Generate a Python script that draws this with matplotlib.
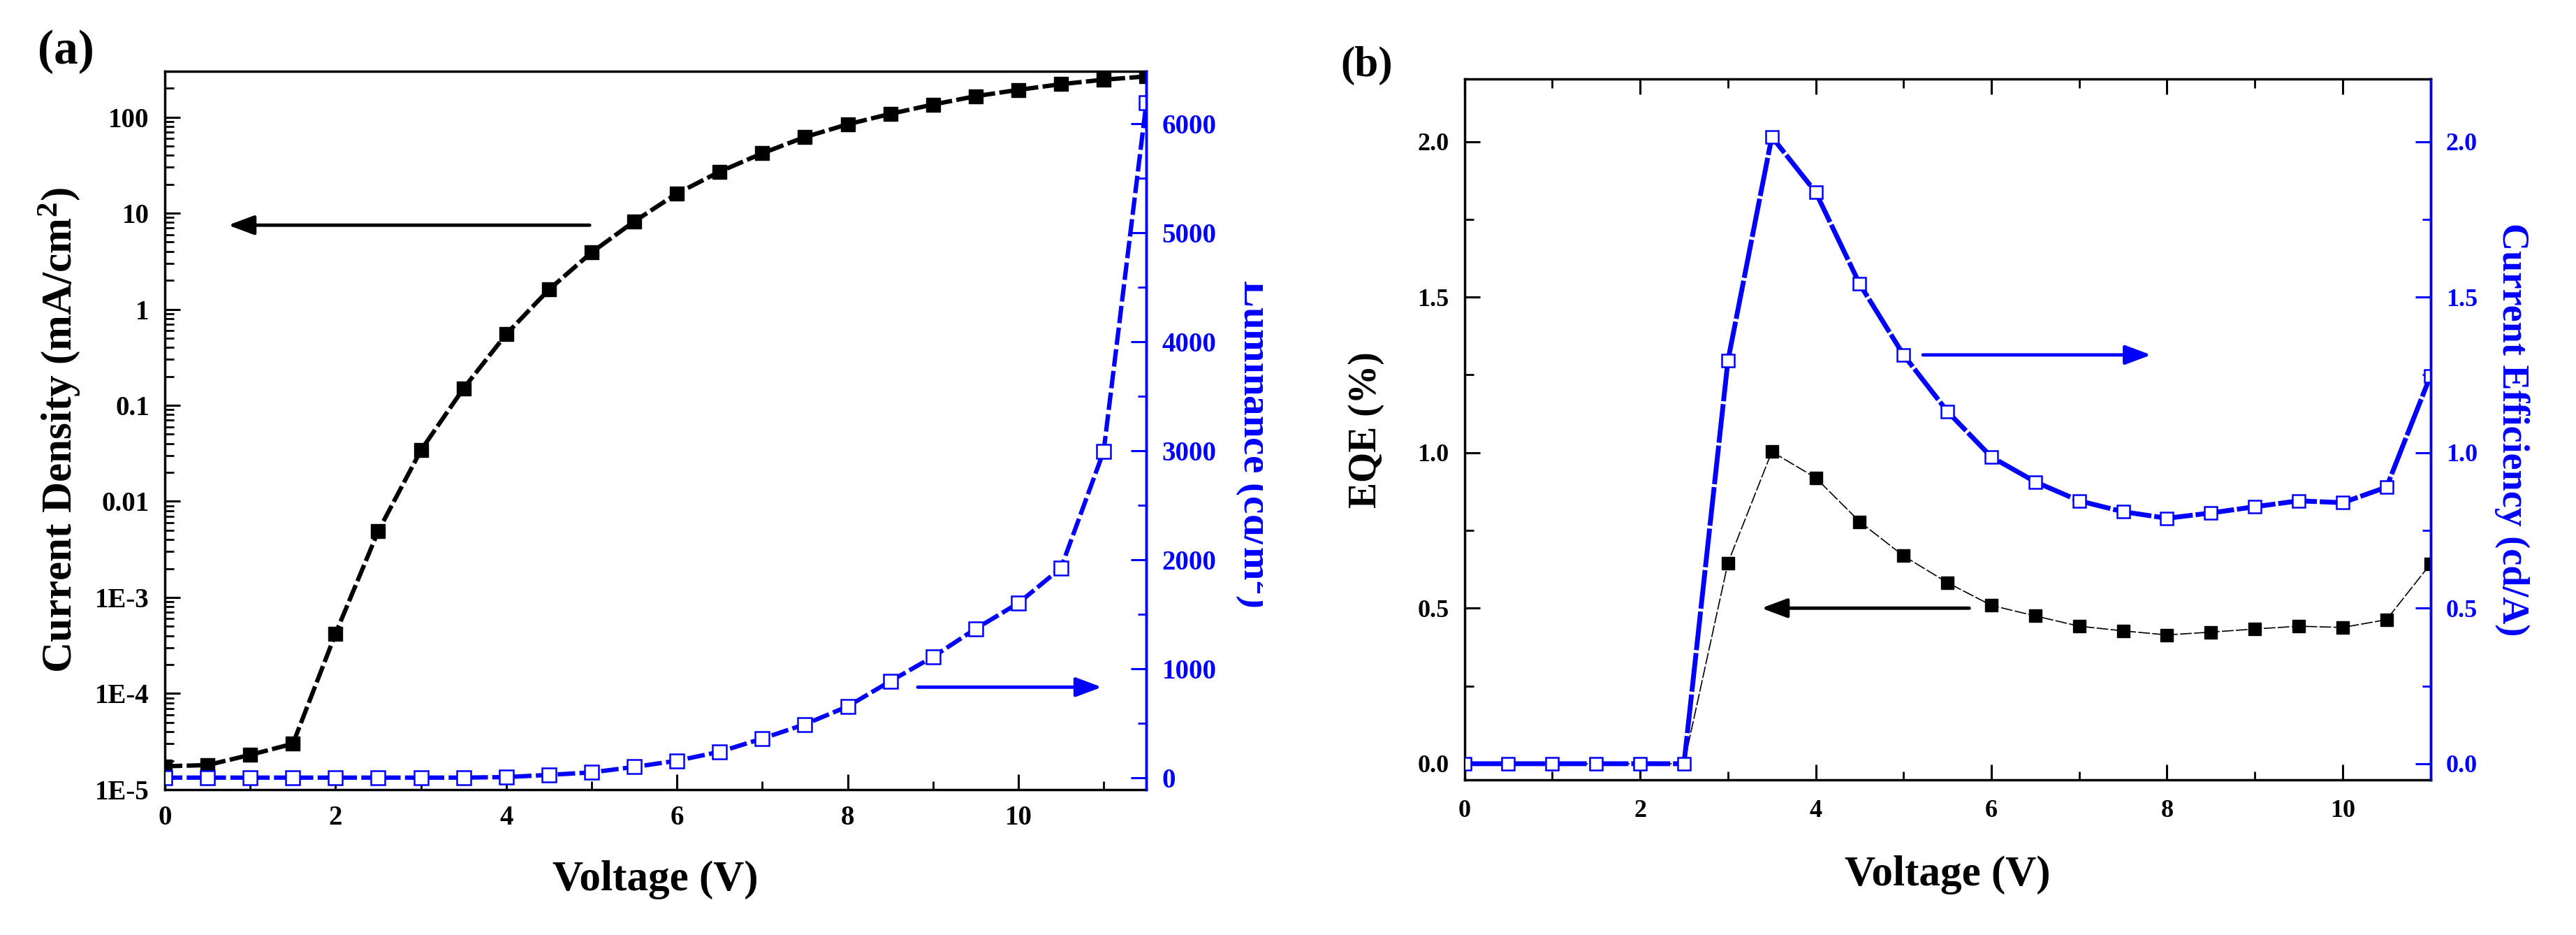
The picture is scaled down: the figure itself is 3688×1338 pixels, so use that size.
import matplotlib
matplotlib.use('Agg')
import matplotlib.pyplot as plt
from matplotlib.ticker import (FixedLocator, FixedFormatter, MultipleLocator,
                               NullFormatter, FormatStrFormatter)
from matplotlib.transforms import Bbox, TransformedBbox

# panel (a): J-V-L
volt_a = [0, 0.5, 1, 1.5, 2, 2.5, 3, 3.5, 4, 4.5, 5, 5.5, 6, 6.5, 7, 7.5, 8,
          8.5, 9, 9.5, 10, 10.5, 11, 11.5]
current_density = [1.75e-5, 1.8e-5, 2.3e-5, 3.0e-5, 4.2e-4, 4.9e-3, 0.034, 0.15,
                   0.55, 1.6, 3.9, 8.2, 16, 27, 42, 62, 84, 108, 135, 165, 192,
                   220, 245, 265]
luminance = [0, 0, 0, 0, 0, 0, 0, 0, 5, 25, 48, 98, 155, 237, 358, 489, 653,
             884, 1108, 1365, 1600, 1923, 2994, 6190]

# panel (b): efficiencies
volt_b = [0, 0.5, 1, 1.5, 2, 2.5, 3, 3.5, 4, 4.5, 5, 5.5, 6, 6.5, 7, 7.5, 8,
          8.5, 9, 9.5, 10, 10.5, 11]
eqe = [0, 0, 0, 0, 0, 0, 0.645, 1.003, 0.919, 0.778, 0.668, 0.582, 0.509,
       0.475, 0.442, 0.427, 0.414, 0.423, 0.433, 0.442, 0.438, 0.463, 0.642]
cur_eff = [0, 0, 0, 0, 0, 0, 1.295, 2.015, 1.837, 1.542, 1.314, 1.132, 0.986,
           0.906, 0.845, 0.810, 0.789, 0.806, 0.826, 0.845, 0.839, 0.889, 1.247]

log_ticks = [1e-5, 1e-4, 1e-3, 0.01, 0.1, 1, 10, 100]
log_labels = ['1E-5', '1E-4', '1E-3', '0.01', '0.1', '1', '10', '100']

BLUE = '#0000ff'
plt.rcParams['font.family'] = ['Liberation Serif', 'DejaVu Serif']
plt.rcParams['font.weight'] = 'bold'
plt.rcParams['mathtext.fontset'] = 'custom'
plt.rcParams['mathtext.rm'] = 'Liberation Serif:bold'
plt.rcParams['mathtext.bf'] = 'Liberation Serif:bold'
plt.rcParams['mathtext.default'] = 'bf'

W, H = 3688, 1338
fig = plt.figure(figsize=(W / 100, H / 100), dpi=100)

ARROW = '-|>,head_length=0.8,head_width=0.3'


def style_ticks(ax, size, **kw):
    ax.tick_params(which='major', direction='in', length=16, width=2.2,
                   labelsize=size, pad=16, **kw)
    ax.tick_params(which='minor', direction='in', length=9, width=2.0, **kw)


# ---------------- (a) ----------------
ax1 = fig.add_axes([0.0640, 0.1555, 0.3810, 0.7683])
ax1.plot(volt_a, current_density, color='black', lw=4.5, dashes=(4, 1),
         marker='s', ms=14, mfc='black', mec='black')
ax1.set_yscale('log')
ax1.set_xlim(0, 11.5)
ax1.set_ylim(1e-5, 300)
ax1.yaxis.set_major_locator(FixedLocator(log_ticks))
ax1.yaxis.set_major_formatter(FixedFormatter(log_labels))
ax1.yaxis.set_minor_formatter(NullFormatter())
ax1.xaxis.set_major_locator(MultipleLocator(2))
ax1.xaxis.set_minor_locator(MultipleLocator(1))
style_ticks(ax1, 28, top=False, right=False)
for s in ax1.spines.values():
    s.set_linewidth(2.5)
ax1.set_xlabel('Voltage (V)', fontsize=44, fontweight='bold', labelpad=30)
ax1.set_ylabel('Current Density (mA/cm$^2$)', fontsize=44, fontweight='bold',
               labelpad=14)
ax1.annotate('', xy=(0.72, 7.5), xytext=(5.0, 7.5),
             arrowprops=dict(arrowstyle=ARROW, lw=3.5, color='black',
                             mutation_scale=28))

ax1r = ax1.twinx()
ax1r.plot(volt_a, luminance, color=BLUE, lw=4.5, dashes=(4, 1),
          marker='s', ms=14, mfc='white', mec=BLUE, mew=1.8)
ax1r.set_ylim(-110, 6480)
ax1r.yaxis.set_major_locator(MultipleLocator(1000))
ax1r.yaxis.set_minor_locator(MultipleLocator(500))
style_ticks(ax1r, 28, left=False, top=False, colors=BLUE)
ax1r.spines['right'].set_color(BLUE)
ax1r.spines['right'].set_linewidth(2.5)
ax1r.annotate('', xy=(11.0, 830), xytext=(8.8, 830),
              arrowprops=dict(arrowstyle=ARROW, lw=3.5, color=BLUE,
                              mutation_scale=28))
# the luminance title is cut off on its right side in the original
lum = fig.text(1766 / W, 1 - 635 / H, 'Luminance (cd/m$^2$)', rotation=270,
               ha='left', va='center', fontsize=41, fontweight='bold',
               color=BLUE)
lum.set_clip_box(TransformedBbox(Bbox([[0, 0], [1808 / W, 1]]),
                                 fig.transFigure))
lum.set_clip_on(True)
fig.text(94 / W, 1 - 74 / H, '(a)', fontsize=50, fontweight='bold',
         ha='center', va='center')

# ---------------- (b) ----------------
ax2 = fig.add_axes([0.5685, 0.1659, 0.3750, 0.7493])
ax2.plot(volt_b, eqe, color='black', lw=1.2, dashes=(10, 2),
         marker='s', ms=13, mfc='black', mec='black')
ax2.set_xlim(0, 11)
ax2.set_ylim(-0.052, 2.2)
ax2.xaxis.set_major_locator(MultipleLocator(2))
ax2.xaxis.set_minor_locator(MultipleLocator(1))
ax2.yaxis.set_major_locator(MultipleLocator(0.5))
ax2.yaxis.set_minor_locator(MultipleLocator(0.25))
ax2.yaxis.set_major_formatter(FormatStrFormatter('%.1f'))
style_ticks(ax2, 26, top=True, right=False)
ax2.tick_params(axis='x', pad=20)
for s in ax2.spines.values():
    s.set_linewidth(2.5)
ax2.set_xlabel('Voltage (V)', fontsize=44, fontweight='bold', labelpad=34)
ax2.set_ylabel('EQE (%)', fontsize=40, fontweight='bold', labelpad=34)
ax2.annotate('', xy=(3.36, 0.50), xytext=(5.77, 0.50),
             arrowprops=dict(arrowstyle=ARROW, lw=3.5, color='black',
                             mutation_scale=28))

ax2r = ax2.twinx()
ax2r.plot(volt_b, cur_eff, color=BLUE, lw=5, dashes=(8, 0.6),
          marker='s', ms=13, mfc='white', mec=BLUE, mew=1.8)
ax2r.set_ylim(-0.052, 2.2)
ax2r.yaxis.set_major_locator(MultipleLocator(0.5))
ax2r.yaxis.set_minor_locator(MultipleLocator(0.25))
ax2r.yaxis.set_major_formatter(FormatStrFormatter('%.1f'))
style_ticks(ax2r, 26, left=False, top=False, colors=BLUE)
ax2r.spines['right'].set_color(BLUE)
ax2r.spines['right'].set_linewidth(2.5)
ax2r.set_ylabel('Current Efficiency (cd/A)', fontsize=39, fontweight='bold',
                color=BLUE, rotation=270, labelpad=54)
ax2r.annotate('', xy=(7.84, 1.314), xytext=(5.2, 1.314),
              arrowprops=dict(arrowstyle=ARROW, lw=3.5, color=BLUE,
                              mutation_scale=28))
fig.text(1957 / W, 1 - 94 / H, '(b)', fontsize=44, fontweight='bold',
         ha='center', va='center')

plt.savefig('out.png', dpi=100)
